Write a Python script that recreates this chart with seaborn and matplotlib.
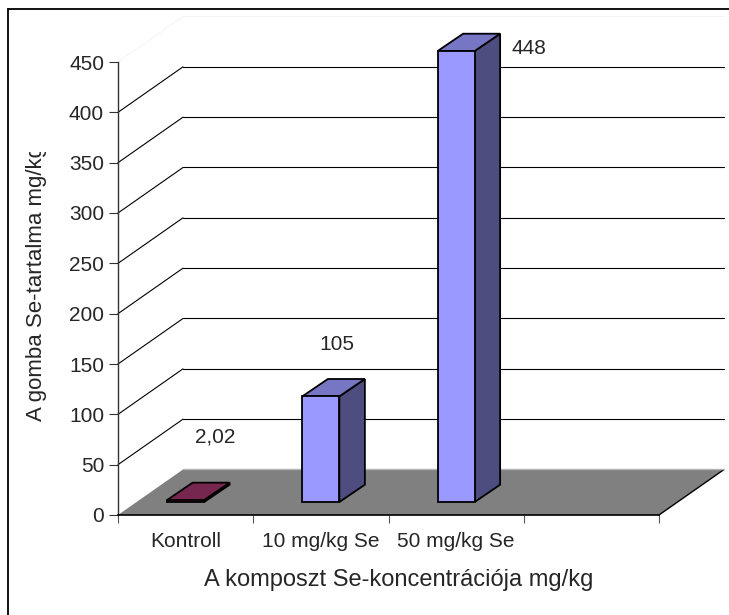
import numpy as np
import pandas as pd
import matplotlib
matplotlib.use("Agg")
import matplotlib.pyplot as plt
from matplotlib.patches import Polygon
from matplotlib.lines import Line2D
from matplotlib.transforms import Bbox, TransformedBbox
import seaborn as sns

# --- data -------------------------------------------------------------
categories = ["Kontroll", "10 mg/kg Se", "50 mg/kg Se"]
se_content = [2.02, 105, 448]
y_ticks = [0, 50, 100, 150, 200, 250, 300, 350, 400, 450]

x_title = "A komposzt Se-koncentrációja mg/kg"
y_title = "A gomba Se-tartalma mg/kg"

bar_colors = {"Kontroll": "#993366", "10 mg/kg Se": "#9999FF", "50 mg/kg Se": "#9999FF"}

# --- pseudo-3D geometry (category units along x, value units along y) --
n_slots = 4
wall_dx, wall_dy = 0.4806, 45.2      # depth of floor / walls
bar_width = 0.2736
bar_lift = 12.9                      # columns stand inside the floor depth
bar_dx, bar_dy = 0.1885, 17.2        # depth of each column
label_offsets = [(0.217, 75.5), (0.1165, 63.9), (0.536, 15.9)]

sns.set_style("white")
plt.rcParams["font.family"] = ["Liberation Sans", "DejaVu Sans"]

W, H = 729, 615
fig = plt.figure(figsize=(W / 100, H / 100), dpi=100)
ax = fig.add_axes([118 / W, 100 / H, 541 / W, 453 / H])

df = pd.DataFrame({"kat": categories, "se": se_content})
sns.barplot(data=df, x="kat", y="se", hue="kat", order=categories,
            hue_order=categories, palette=bar_colors, saturation=1,
            width=bar_width, bottom=bar_lift, edgecolor="black",
            linewidth=1.3, legend=False, ax=ax, zorder=5)
bars = list(ax.patches)

x0, x1 = -0.5, n_slots - 0.5
ax.set_xlim(x0, x1)
ax.set_ylim(y_ticks[0], y_ticks[-1])

# floor
ax.add_patch(Polygon([(x0, 0), (x1, 0), (x1 + wall_dx, wall_dy), (x0 + wall_dx, wall_dy)],
                     closed=True, facecolor="#808080", edgecolor="none",
                     zorder=1, clip_on=False))
ax.plot([x1, x1 + wall_dx], [0, wall_dy], color="black", lw=1.0, zorder=2, clip_on=False)
ax.plot([x0 + wall_dx, x1 + wall_dx], [wall_dy, wall_dy], color="#b4b4b4", lw=1.0,
        zorder=2, clip_on=False)

# gridlines on the back wall and the side wall
for v in y_ticks[1:-1]:
    ax.plot([x0 + wall_dx, x1 + wall_dx], [v + wall_dy] * 2, color="black",
            lw=0.8, zorder=2, clip_on=False)
    ax.plot([x0, x0 + wall_dx], [v, v + wall_dy], color="black", lw=0.8,
            zorder=2, clip_on=False)
top = y_ticks[-1]
ax.plot([x0, x0 + wall_dx], [top, top + wall_dy], color="#f0f0f0", lw=0.8,
        ls=(0, (2, 1)), zorder=2, clip_on=False)
ax.plot([x0 + wall_dx, x1 + wall_dx], [top + wall_dy] * 2, color="#f5f5f5",
        lw=0.8, zorder=2, clip_on=False)

# top and side faces of the columns
for bar in bars:
    bar.set_clip_on(False)
    bx, by = bar.get_x(), bar.get_y()
    bw, bh = bar.get_width(), bar.get_height()
    fc = np.array(bar.get_facecolor()[:3])
    top_face = [(bx, by + bh), (bx + bw, by + bh),
                (bx + bw + bar_dx, by + bh + bar_dy), (bx + bar_dx, by + bh + bar_dy)]
    side_face = [(bx + bw, by), (bx + bw + bar_dx, by + bar_dy),
                 (bx + bw + bar_dx, by + bh + bar_dy), (bx + bw, by + bh)]
    ax.add_patch(Polygon(side_face, closed=True, facecolor=fc * 0.5,
                         edgecolor="black", lw=1.3, zorder=4, clip_on=False))
    ax.add_patch(Polygon(top_face, closed=True, facecolor=fc * 0.77,
                         edgecolor="black", lw=1.3, zorder=4, clip_on=False))

# value labels
for bar, v, (ox, oy) in zip(bars, se_content, label_offsets):
    cx = bar.get_x() + bar.get_width() / 2
    ax.text(cx + ox, v + oy, f"{v:g}".replace(".", ","), ha="center",
            va="center", fontsize=15, zorder=6, clip_on=False)

# axes
sns.despine(ax=ax, top=True, right=True)
ax.spines["left"].set_color("#333333")
ax.spines["left"].set_linewidth(1.0)
ax.spines["bottom"].set_color("black")
ax.spines["bottom"].set_linewidth(1.2)
ax.spines["bottom"].set_zorder(3)

ax.set_yticks(y_ticks)
ax.tick_params(axis="y", left=True, direction="out", length=6.5, width=0.8,
               color="#333333", pad=3.5, labelsize=15)
ax.set_xticks(np.arange(x0, x1 + 0.01, 1.0))
ax.set_xticklabels([])
ax.set_xticks(range(len(categories)), labels=categories, minor=True)
ax.tick_params(axis="x", which="major", bottom=True, direction="out",
               length=6, width=0.8, color="#555555")
ax.tick_params(axis="x", which="minor", bottom=True, length=0, pad=12, labelsize=15)
ax.set_xlabel("")
ax.set_ylabel("")

# titles
fig.text(399 / W, 1 - 580 / H, x_title, ha="center", va="center", fontsize=17)
yt = fig.text(37 / W, 1 - 421 / H, y_title, rotation=90, ha="center",
              va="bottom", fontsize=16)
yt.set_clip_box(TransformedBbox(Bbox.from_extents(0, 0, 1, 1 - 152 / H),
                                fig.transFigure))
yt.set_clip_on(True)

# chart frame
fig.add_artist(Line2D([8 / W, 8 / W], [0, 1 - 9 / H], color="black", lw=1.3))
fig.add_artist(Line2D([8 / W, 1], [1 - 9 / H, 1 - 9 / H], color="black", lw=1.3))

fig.savefig("out.png", dpi=100)
